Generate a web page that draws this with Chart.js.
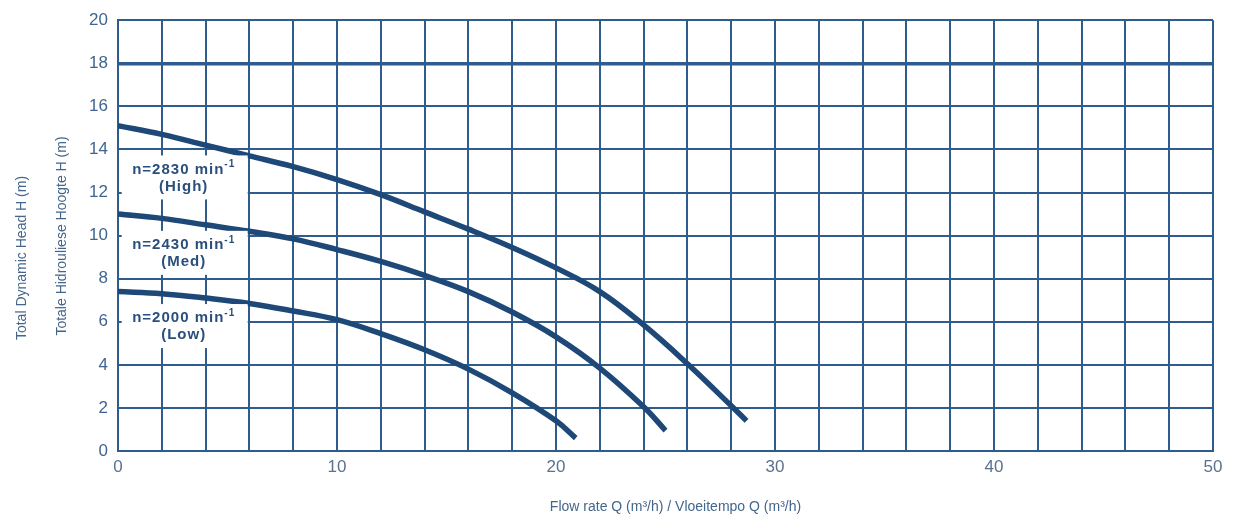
<!DOCTYPE html>
<html>
<head>
<meta charset="utf-8">
<script src="https://cdn.jsdelivr.net/npm/chart.js@4/dist/chart.umd.min.js"></script>
<style>
  html, body { margin: 0; padding: 0; background: #fff; }
  #wrap { width: 1234px; height: 519px; }
</style>
</head>
<body>
<div id="wrap"><canvas id="pump-curve"></canvas></div>
<script>
// flow rate (m3/h) and head (m)
const highQ = [0, 2, 4, 6, 8, 10, 12, 14, 16, 18, 20, 22, 24, 26, 28, 28.7];
const highH = [15.1, 14.7, 14.2, 13.7, 13.2, 12.6, 11.9, 11.1, 10.3, 9.45, 8.5, 7.4, 5.85, 4.05, 2.1, 1.4];
const medQ = [0, 2, 4, 6, 8, 10, 12, 14, 16, 18, 20, 22, 24, 25];
const medH = [11.0, 10.8, 10.5, 10.2, 9.85, 9.35, 8.8, 8.15, 7.4, 6.45, 5.3, 3.85, 2.05, 0.95];
const lowQ = [0, 2, 4, 6, 8, 10, 12, 14, 16, 18, 20, 20.9];
const lowH = [7.4, 7.3, 7.1, 6.85, 6.5, 6.1, 5.45, 4.7, 3.8, 2.7, 1.4, 0.6];

// curve labels: text, sub text, anchor in data units (x, y of box centre)
const curveLabels = ['n=2830 min', 'n=2430 min', 'n=2000 min'];
const curveSubs = ['(High)', '(Med)', '(Low)'];
const labelAnchors = [[3, 12.7], [3, 9.2], [3, 5.8]];

const xTitle = 'Flow rate Q (m³/h) / Vloeitempo Q (m³/h)';
const yTitles = ['Total Dynamic Head H (m)', 'Totale Hidrouliese Hoogte H (m)'];

const navy = '#1d4877';
const gridCol = '#2e5c8c';
const fontFam = '"Liberation Sans", Arial, sans-serif';

const toPts = (qs, hs) => qs.map((q, i) => ({ x: q, y: hs[i] }));

const labelsPlugin = {
  id: 'curveLabels',
  afterDatasetsDraw(chart) {
    const { ctx, scales } = chart;
    ctx.save();
    labelAnchors.forEach((a, i) => {
      const cx = scales.x.getPixelForValue(a[0]);
      const cy = scales.y.getPixelForValue(a[1]);
      ctx.fillStyle = '#fff';
      ctx.fillRect(cx - 62, cy - 22, 126, 44);
      ctx.fillStyle = '#2a4f7c';
      ctx.letterSpacing = '1px';
      ctx.font = 'bold 15px ' + fontFam;
      const w = ctx.measureText(curveLabels[i]).width;
      ctx.font = 'bold 10px ' + fontFam;
      const sw = ctx.measureText('-1').width;
      const left = cx - (w + sw) / 2;
      ctx.textBaseline = 'middle';
      ctx.textAlign = 'left';
      ctx.font = 'bold 15px ' + fontFam;
      ctx.fillText(curveLabels[i], left, cy - 8);
      ctx.font = 'bold 10px ' + fontFam;
      ctx.fillText('-1', left + w, cy - 13);
      ctx.textAlign = 'center';
      ctx.font = 'bold 15px ' + fontFam;
      ctx.fillText(curveSubs[i], cx, cy + 9);
    });
    ctx.restore();
  }
};

const titlesPlugin = {
  id: 'axisTitles',
  afterDraw(chart) {
    const { ctx, chartArea } = chart;
    ctx.save();
    ctx.fillStyle = '#44668c';
    ctx.font = '14px ' + fontFam;
    ctx.textAlign = 'center';
    ctx.textBaseline = 'middle';
    ctx.fillText(xTitle, (chartArea.left + chartArea.right) / 2 + 10, 507);
    const xs = [22, 62];
    const ys = [258, 236];
    yTitles.forEach((t, i) => {
      ctx.save();
      ctx.translate(xs[i], ys[i]);
      ctx.rotate(-Math.PI / 2);
      ctx.fillText(t, 0, 0);
      ctx.restore();
    });
    ctx.restore();
  }
};

const lineSet = (pts) => ({
  data: pts,
  borderColor: navy,
  borderWidth: 5.5,
  pointRadius: 0,
  fill: false,
  tension: 0.4,
  borderCapStyle: 'butt'
});

new Chart(document.getElementById('pump-curve'), {
  type: 'line',
  data: {
    datasets: [
      lineSet(toPts(highQ, highH)),
      lineSet(toPts(medQ, medH)),
      lineSet(toPts(lowQ, lowH))
    ]
  },
  options: {
    responsive: true,
    maintainAspectRatio: false,
    animation: false,
    layout: { padding: { top: 19, right: 21, left: 0, bottom: 0 } },
    plugins: { legend: { display: false }, tooltip: { enabled: false } },
    scales: {
      x: {
        type: 'linear',
        min: 0,
        max: 50,
        afterFit(s) { s.height = 68; },
        ticks: {
          stepSize: 2,
          autoSkip: false,
          maxRotation: 0,
          padding: 6,
          color: '#5a7190',
          font: { size: 17, family: fontFam },
          callback: (v) => (v % 10 === 0 ? String(v) : '')
        },
        grid: { color: gridCol, lineWidth: 2, drawTicks: false },
        border: { color: gridCol, width: 2 }
      },
      y: {
        min: 0,
        max: 20,
        afterFit(s) { s.width = 118; },
        ticks: {
          stepSize: 2,
          padding: 10,
          color: '#3f6590',
          font: { size: 17, family: fontFam }
        },
        grid: {
          color: gridCol,
          lineWidth: (c) => (c.tick && c.tick.value === 18 ? 3.5 : 2),
          drawTicks: false
        },
        border: { color: gridCol, width: 2 }
      }
    }
  },
  plugins: [labelsPlugin, titlesPlugin]
});
</script>
</body>
</html>
